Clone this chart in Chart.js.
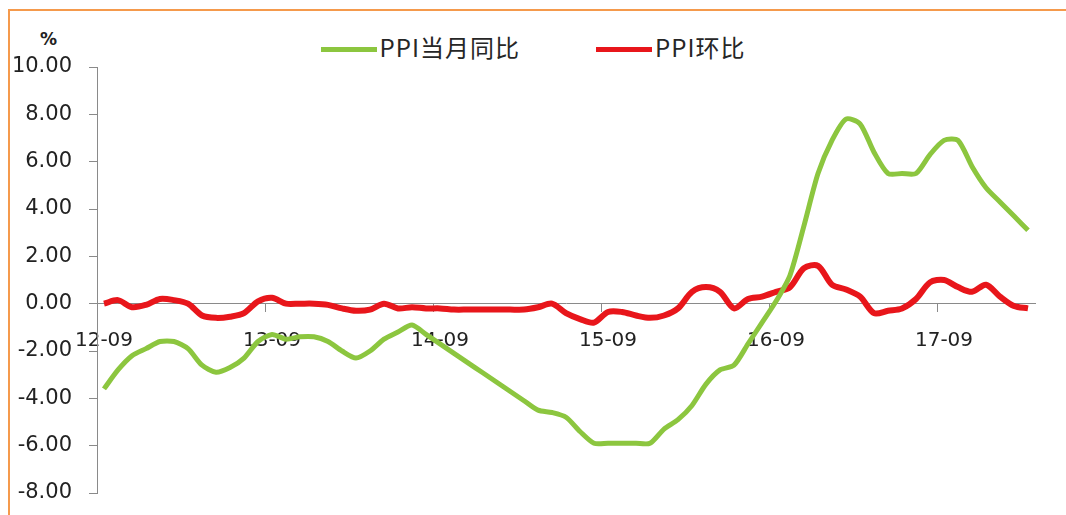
<!DOCTYPE html>
<html>
<head>
<meta charset="utf-8">
<script src="https://cdn.jsdelivr.net/npm/chart.js@4.4.1/dist/chart.umd.min.js"></script>
<style>
  html, body { margin: 0; padding: 0; background: #fff; }
  #wrap { position: relative; width: 1066px; height: 515px; overflow: hidden; }
  #frame {
    position: absolute; left: 8px; top: 9px; width: 1100px; height: 600px;
    border-top: 2px solid #F59A4C; border-left: 2px solid #F59A4C;
  }
  #unit {
    position: absolute; left: 40px; top: 29px;
    font: bold 17px "DejaVu Sans", sans-serif; color: #222;
  }
  #legend {
    position: absolute; top: 29px; left: 0; width: 1066px;
    display: flex; justify-content: center; gap: 76px;
    font: 24px "Noto Sans CJK SC", sans-serif; color: #262626; letter-spacing: 1px;
  }
  .item { display: flex; align-items: center; }
  .swatch { display: inline-block; width: 56px; height: 5px; margin-right: 3px; margin-top: 6px; }
  canvas { position: absolute; left: 0; top: 0; }
</style>
</head>
<body>
<div id="wrap">
  <div id="frame"></div>
  <div id="unit">%</div>
  <div id="legend"></div>
  <canvas id="ppiChart" width="1066" height="515"></canvas>
</div>
<script>
// months 2012-09 .. 2018-03
const months = [
  '12-09', '12-10', '12-11', '12-12',
  '13-01', '13-02', '13-03', '13-04', '13-05', '13-06', '13-07', '13-08', '13-09', '13-10', '13-11', '13-12',
  '14-01', '14-02', '14-03', '14-04', '14-05', '14-06', '14-07', '14-08', '14-09', '14-10', '14-11', '14-12',
  '15-01', '15-02', '15-03', '15-04', '15-05', '15-06', '15-07', '15-08', '15-09', '15-10', '15-11', '15-12',
  '16-01', '16-02', '16-03', '16-04', '16-05', '16-06', '16-07', '16-08', '16-09', '16-10', '16-11', '16-12',
  '17-01', '17-02', '17-03', '17-04', '17-05', '17-06', '17-07', '17-08', '17-09', '17-10', '17-11', '17-12',
  '18-01', '18-02', '18-03'
];

// PPI year on year, %
const ppiYoy = [
  -3.6, -2.8, -2.2, -1.9,
  -1.6, -1.6, -1.9, -2.6, -2.9, -2.7, -2.3, -1.6, -1.3, -1.5, -1.4, -1.4,
  -1.6, -2.0, -2.3, -2.0, -1.5, -1.2, -0.9, -1.3, -1.7, -2.1, -2.5, -2.9,
  -3.3, -3.7, -4.1, -4.5, -4.6, -4.8, -5.4, -5.9, -5.9, -5.9, -5.9, -5.9,
  -5.3, -4.9, -4.3, -3.4, -2.8, -2.6, -1.7, -0.8, 0.1, 1.2, 3.3, 5.5,
  6.9, 7.8, 7.6, 6.4, 5.5, 5.5, 5.5, 6.3, 6.9, 6.9, 5.8, 4.9,
  4.3, 3.7, 3.1
];

// PPI month on month, %
const ppiMom = [
  0.0, 0.15, -0.15, -0.05,
  0.2, 0.15, 0.0, -0.5, -0.6, -0.55, -0.4, 0.1, 0.25, 0.0, 0.0, 0.0,
  -0.05, -0.2, -0.3, -0.25, 0.0, -0.2, -0.15, -0.2, -0.2, -0.25, -0.25, -0.25,
  -0.25, -0.25, -0.25, -0.15, 0.0, -0.4, -0.65, -0.8, -0.35, -0.35, -0.5, -0.6,
  -0.5, -0.2, 0.5, 0.7, 0.5, -0.2, 0.2, 0.3, 0.5, 0.7, 1.5, 1.6,
  0.8, 0.6, 0.3, -0.4, -0.3, -0.2, 0.2, 0.9, 1.0, 0.7, 0.5, 0.8,
  0.3, -0.1, -0.2
];

const seriesNames = ['PPI当月同比', 'PPI环比'];
const seriesColors = ['#8CC63F', '#E8161B'];
const yTicks = [-8, -6, -4, -2, 0, 2, 4, 6, 8, 10];

const axisGray = '#8A8A8A';
const labelFont = { family: '"DejaVu Sans", sans-serif', size: 20 };

const ctx = document.getElementById('ppiChart').getContext('2d');

const ppiChart = new Chart(ctx, {
  type: 'line',
  data: {
    labels: months,
    datasets: [
      {
        label: seriesNames[0],
        data: ppiYoy,
        borderColor: seriesColors[0],
        backgroundColor: seriesColors[0],
        borderWidth: 5,
        pointRadius: 0,
        tension: 0.25,
        fill: false
      },
      {
        label: seriesNames[1],
        data: ppiMom,
        borderColor: seriesColors[1],
        backgroundColor: seriesColors[1],
        borderWidth: 6,
        pointRadius: 0,
        tension: 0.3,
        fill: false
      }
    ]
  },
  options: {
    responsive: false,
    animation: false,
    layout: { padding: { top: 67, bottom: 22, right: 31, left: 0 } },
    plugins: {
      legend: { display: false },
      tooltip: { enabled: false }
    },
    scales: {
      x: {
        type: 'category',
        position: { y: 0 },
        offset: true,
        grid: {
          offset: true,
          drawOnChartArea: false,
          tickLength: 8,
          tickColor: (c) => (c.index % 12 === 0 ? axisGray : 'rgba(0,0,0,0)')
        },
        border: { color: axisGray, width: 1 },
        ticks: {
          autoSkip: false,
          maxRotation: 0,
          minRotation: 0,
          padding: 17,
          color: '#222',
          font: labelFont,
          callback: function (value, index) {
            return index % 12 === 0 ? this.getLabelForValue(value) : '';
          }
        }
      },
      y: {
        min: -8,
        max: 10,
        afterFit: (scale) => {
          // fixed axis width, no extra room for the end labels
          scale.width = 97;
          scale.paddingTop = 0;
          scale.paddingBottom = 0;
        },
        afterBuildTicks: (scale) => { scale.ticks = yTicks.map((v) => ({ value: v })); },
        grid: { drawOnChartArea: false, tickLength: 8, color: axisGray },
        border: { color: axisGray, width: 1 },
        ticks: {
          padding: 17,
          color: '#222',
          font: { family: '"DejaVu Sans", sans-serif', size: 21 },
          callback: (v) => v.toFixed(2)
        }
      }
    }
  }
});

// legend built from the datasets
const legend = document.getElementById('legend');
ppiChart.data.datasets.forEach((ds) => {
  const item = document.createElement('span');
  item.className = 'item';
  const sw = document.createElement('span');
  sw.className = 'swatch';
  sw.style.background = ds.borderColor;
  const txt = document.createElement('span');
  txt.textContent = ds.label;
  item.appendChild(sw);
  item.appendChild(txt);
  legend.appendChild(item);
});
</script>
</body>
</html>
